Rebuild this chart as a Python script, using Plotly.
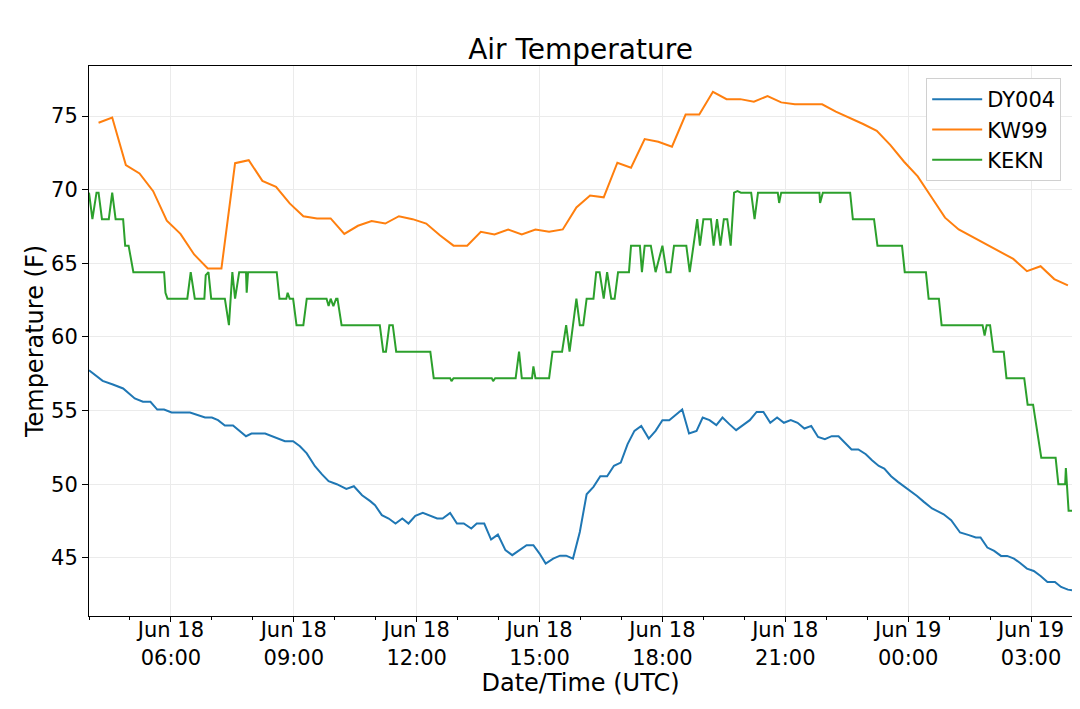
import pandas as pd
import plotly.graph_objects as go

# observation times (UTC, starting Jun 18) and air temperature in F
dy004_times = [
    "04:00", "04:20", "04:35", "04:50", "05:07", "05:19", "05:30", "05:40", "05:50", "06:01",
    "06:28", "06:50", "07:00", "07:09", "07:19", "07:31", "07:50", "07:58", "08:18", "08:30",
    "08:47", "08:59", "09:09", "09:19", "09:31", "09:41", "09:51", "10:03", "10:17", "10:28",
    "10:40", "10:52", "10:59", "11:09", "11:19", "11:29", "11:39", "11:48", "11:58", "12:09",
    "12:20", "12:30", "12:38", "12:49", "12:59", "13:09", "13:20", "13:28", "13:39", "13:49",
    "13:59", "14:10", "14:20", "14:29", "14:41", "14:51", "15:00", "15:09", "15:20", "15:30",
    "15:39", "15:49", "15:59", "16:09", "16:19", "16:29", "16:39", "16:49", "16:59", "17:09",
    "17:19", "17:29", "17:40", "17:50", "18:00", "18:10", "18:20", "18:29", "18:39", "18:50",
    "18:59", "19:09", "19:19", "19:28", "19:38", "19:48", "19:58", "20:08", "20:18", "20:28",
    "20:38", "20:48", "20:58", "21:08", "21:18", "21:28", "21:38", "21:48", "21:58", "22:08",
    "22:18", "22:27", "22:37", "22:47", "22:58", "23:07", "23:17", "23:25", "23:35", "23:45",
    "23:55", "00:05", "00:13", "00:23", "00:35", "00:45", "00:52", "01:03", "01:16", "01:29",
    "01:39", "01:46", "01:56", "02:06", "02:16", "02:25", "02:35", "02:44", "02:54", "03:04",
    "03:14", "03:24", "03:35", "03:44", "03:54", "04:00",
]
dy004_temp = [
    57.74, 57.02, 56.77, 56.5, 55.82, 55.6, 55.6, 55.07, 55.07, 54.87,
    54.87, 54.53, 54.53, 54.35, 53.99, 53.99, 53.26, 53.44, 53.44, 53.21,
    52.92, 52.92, 52.58, 52.09, 51.22, 50.68, 50.2, 50.0, 49.68, 49.86,
    49.25, 48.85, 48.57, 47.9, 47.67, 47.33, 47.67, 47.33, 47.85, 48.05,
    47.85, 47.67, 47.67, 48.05, 47.33, 47.33, 46.99, 47.33, 47.33, 46.24,
    46.58, 45.52, 45.18, 45.47, 45.86, 45.86, 45.29, 44.61, 44.95, 45.15,
    45.15, 44.95, 46.76, 49.32, 49.82, 50.54, 50.54, 51.25, 51.47, 52.72,
    53.62, 53.96, 53.1, 53.62, 54.35, 54.35, 54.76, 55.07, 53.44, 53.62,
    54.53, 54.35, 54.01, 54.53, 54.08, 53.67, 54.01, 54.35, 54.91, 54.91,
    54.17, 54.53, 54.17, 54.35, 54.17, 53.78, 53.96, 53.21, 53.06, 53.26,
    53.26, 52.8, 52.36, 52.36, 52.04, 51.63, 51.24, 51.06, 50.54, 50.16,
    49.82, 49.48, 49.2, 48.8, 48.35, 48.12, 47.96, 47.55, 46.72, 46.54,
    46.38, 46.38, 45.7, 45.47, 45.13, 45.13, 44.95, 44.65, 44.27, 44.11,
    43.77, 43.36, 43.36, 43.02, 42.84, 42.8,
]

# KW99 reports every 20 minutes from 04:14
kw99_start = "2019-06-18 04:14"
kw99_temp = [
    74.55, 74.9, 71.67, 71.1, 69.9, 67.9, 67.0, 65.6, 64.65, 64.65,
    71.8, 72.0, 70.6, 70.2, 69.07, 68.2, 68.05, 68.05, 67.0, 67.55,
    67.87, 67.7, 68.2, 68.0, 67.7, 66.9, 66.2, 66.2, 67.14, 66.96,
    67.3, 66.96, 67.3, 67.14, 67.3, 68.8, 69.6, 69.48, 71.83, 71.49,
    73.44, 73.26, 72.92, 75.1, 75.1, 76.65, 76.15, 76.15, 75.97, 76.36,
    75.93, 75.8, 75.8, 75.8, 75.3, 74.9, 74.46, 74.0, 73.03, 71.9,
    70.9, 69.5, 68.1, 67.3, 66.8, 66.3, 65.8, 65.3, 64.47, 64.8,
    63.93, 63.5,
]

kekn_times = [
    "04:00", "04:05", "04:11", "04:14", "04:19", "04:29", "04:34", "04:39", "04:50", "04:53",
    "04:58", "05:05", "05:50", "05:52", "05:55", "06:24", "06:29", "06:35", "06:49", "06:51",
    "06:55", "06:59", "07:19", "07:25", "07:30", "07:34", "07:40", "07:50", "07:51", "07:53",
    "08:35", "08:39", "08:49", "08:51", "08:54", "08:59", "09:04", "09:14", "09:19", "09:48",
    "09:51", "09:54", "09:58", "10:02", "10:04", "10:10", "11:06", "11:11", "11:15", "11:20",
    "11:25", "11:30", "12:20", "12:25", "12:49", "12:51", "12:54", "13:50", "13:52", "13:55",
    "14:25", "14:30", "14:34", "14:49", "14:51", "14:54", "15:14", "15:19", "15:33", "15:39",
    "15:44", "15:54", "15:59", "16:04", "16:09", "16:19", "16:23", "16:28", "16:34", "16:39",
    "16:45", "16:50", "16:55", "17:11", "17:14", "17:27", "17:30", "17:34", "17:43", "17:50",
    "18:00", "18:06", "18:12", "18:17", "18:35", "18:40", "18:51", "18:55", "19:00", "19:11",
    "19:15", "19:20", "19:25", "19:30", "19:35", "19:40", "19:45", "19:50", "19:55", "20:10",
    "20:15", "20:20", "20:49", "20:51", "20:54", "21:50", "21:51", "21:55", "22:35", "22:39",
    "23:10", "23:15", "23:51", "23:55", "00:26", "00:30", "00:45", "00:49", "01:49", "01:52",
    "01:55", "02:00", "02:05", "02:20", "02:24", "02:50", "02:55", "03:03", "03:15", "03:36",
    "03:40", "03:50", "03:51", "03:55", "04:00",
]
kekn_temp = [
    69.8, 68, 69.8, 69.8, 68, 68, 69.8, 68, 68, 66.2,
    66.2, 64.4, 64.4, 63.0, 62.6, 62.6, 64.4, 62.6, 62.6, 64.2,
    64.4, 62.6, 62.6, 60.8, 64.4, 62.6, 64.4, 64.4, 63.0, 64.4,
    64.4, 62.6, 62.6, 63.0, 62.6, 62.6, 60.8, 60.8, 62.6, 62.6,
    62.1, 62.6, 62.1, 62.6, 62.6, 60.8, 60.8, 59, 59, 60.8,
    60.8, 59, 59, 57.2, 57.2, 57.0, 57.2, 57.2, 57.0, 57.2,
    57.2, 59, 57.2, 57.2, 58.0, 57.2, 57.2, 59, 59, 60.8,
    59, 62.6, 60.8, 60.8, 62.6, 62.6, 64.4, 64.4, 62.6, 64.4,
    62.6, 62.6, 64.4, 64.4, 66.2, 66.2, 64.4, 66.2, 66.2, 64.4,
    66.2, 64.4, 64.4, 66.2, 66.2, 64.4, 68, 66.2, 68, 68,
    66.2, 68, 66.2, 68, 68, 66.2, 69.8, 69.9, 69.8, 69.8,
    68, 69.8, 69.8, 69.1, 69.8, 69.8, 69.1, 69.8, 69.8, 68,
    68, 66.2, 66.2, 64.4, 64.4, 62.6, 62.6, 60.8, 60.8, 60.1,
    60.8, 60.8, 59, 59, 57.2, 57.2, 55.4, 55.4, 51.8, 51.8,
    50, 50, 51.1, 48.2, 48.2,
]


def to_datetimes(times, day="2019-06-18"):
    # roll over to the next day when the clock wraps past midnight
    out = []
    base = pd.Timestamp(day)
    prev = None
    for t in times:
        hh, mm = map(int, t.split(":"))
        if prev is not None and (hh, mm) < prev:
            base = base + pd.Timedelta(days=1)
        prev = (hh, mm)
        out.append(base + pd.Timedelta(hours=hh, minutes=mm))
    return out


dy004_x = to_datetimes(dy004_times)
kekn_x = to_datetimes(kekn_times)
kw99_x = pd.date_range(kw99_start, periods=len(kw99_temp), freq="20min")

fig = go.Figure()
fig.add_trace(go.Scatter(x=dy004_x, y=dy004_temp, mode='lines', name='DY004',
                         line=dict(color='#1f77b4', width=2)))
fig.add_trace(go.Scatter(x=kw99_x, y=kw99_temp, mode='lines', name='KW99',
                         line=dict(color='#ff7f0e', width=2)))
fig.add_trace(go.Scatter(x=kekn_x, y=kekn_temp, mode='lines', name='KEKN',
                         line=dict(color='#2ca02c', width=2)))

# page body adds an 8px margin, so the figure is sized 8px smaller
W, H = 1072, 701
fig.update_layout(
    width=W, height=H,
    margin=dict(l=81, r=8, t=58, b=93, autoexpand=False),
    plot_bgcolor='white', paper_bgcolor='white',
    font=dict(family="DejaVu Sans", size=21, color='black'),
    title=dict(text='Air Temperature', xref='paper', x=0.5, xanchor='center',
               y=1 - 41 / H, yanchor='middle', font=dict(size=28)),
    showlegend=True,
    legend=dict(x=0.989, y=0.978, xanchor='right', yanchor='top',
                bgcolor='white', bordercolor='#d0d0d0', borderwidth=1,
                font=dict(size=21), itemwidth=50, tracegroupgap=0),
)
fig.update_xaxes(
    type='date',
    range=['2019-06-18 04:00', '2019-06-19 04:00'],
    tick0='2019-06-18 00:00', dtick=3 * 3600 * 1000,
    tickformat='%b %d<br>%H:%M',
    ticks='outside', ticklen=5, tickcolor='black', ticklabelstandoff=-10,
    minor=dict(dtick=3600 * 1000, ticks='outside', ticklen=3, tickcolor='black', showgrid=False),
    showgrid=True, gridcolor='#ebebeb', gridwidth=1,
    showline=True, linecolor='black', linewidth=1, mirror=True,
    title=dict(text='Date/Time (UTC)', font=dict(size=24), standoff=4),
    tickfont=dict(size=21), automargin=False,
)
fig.update_yaxes(
    range=[41.05, 78.4],
    tickvals=[45, 50, 55, 60, 65, 70, 75],
    ticks='outside', ticklen=6, tickcolor='black',
    showgrid=True, gridcolor='#ebebeb', gridwidth=1, zeroline=False,
    showline=True, linecolor='black', linewidth=1, mirror=True,
    title=dict(text='Temperature (F)', font=dict(size=24), standoff=0),
    tickfont=dict(size=21), automargin=False,
)

fig.write_html("out.html")
